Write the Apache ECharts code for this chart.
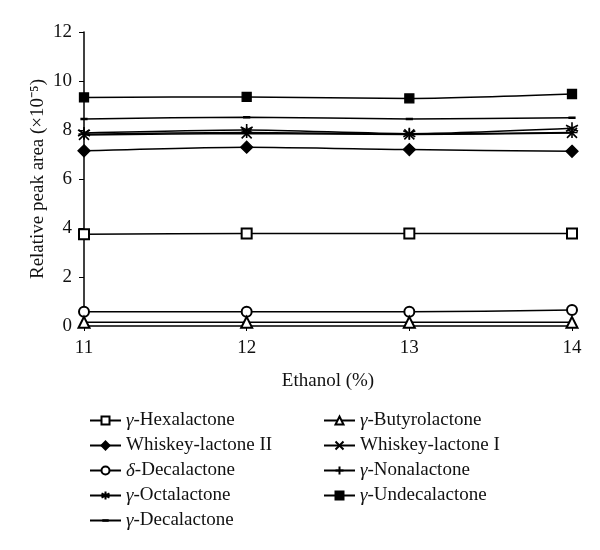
<!DOCTYPE html>
<html><head><meta charset="utf-8">
<script src="https://cdn.jsdelivr.net/npm/echarts@6/dist/echarts.min.js"></script>
<style>html,body{margin:0;padding:0;background:#fff}#c{width:600px;height:550px}</style>
</head><body><div id="c"></div>
<script>
const ethanol = [11, 12, 13, 14];
const seriesNames = ['γ-Hexalactone','Whiskey-lactone II','δ-Decalactone','γ-Octalactone','γ-Decalactone','γ-Butyrolactone','Whiskey-lactone I','γ-Nonalactone','γ-Undecalactone'];
const hexalactone   = [3.74, 3.78, 3.78, 3.78];
const whiskeyII     = [7.15, 7.30, 7.20, 7.13];
const dDecalactone  = [0.58, 0.58, 0.58, 0.65];
const octalactone   = [7.88, 8.00, 7.85, 8.07];
const gDecalactone  = [8.45, 8.52, 8.45, 8.50];
const butyrolactone = [0.15, 0.15, 0.15, 0.15];
const whiskeyI      = [7.80, 7.86, 7.82, 7.88];
const nonalactone   = [7.83, 7.90, 7.84, 7.90];
const undecalactone = [9.33, 9.35, 9.29, 9.47];
const yTicks = [0, 2, 4, 6, 8, 10, 12];

const FONT = 'Liberation Serif';
const FS = 19;
const X = 'path://M0,0L10,10M10,0L0,10';
const PLUS = 'path://M5,0L5,10M0,5L10,5';
const STAR = 'path://M5,0L5,10M0.7,2.5L9.3,7.5M9.3,2.5L0.7,7.5';
const DASH = 'path://M0,0L0.01,0L0,0.01Z M1,3.5L9,3.5L9,6.5L1,6.5Z M10,10L9.99,10L10,9.99Z';

const dataArr = [hexalactone, whiskeyII, dDecalactone, octalactone, gDecalactone, butyrolactone, whiskeyI, nonalactone, undecalactone];
const symbols = [
  ['emptyRect', 10], ['diamond', 12], ['emptyCircle', 10], [STAR, 12], [DASH, 9],
  ['emptyTriangle', 11], [X, 10], [PLUS, 11], ['rect', 9]
];

const series = seriesNames.map((n, i) => {
  const sym = symbols[i][0];
  const isPath = sym.startsWith('path://') && sym !== DASH;
  return {
    name: n, type: 'line', smooth: 0.25,
    data: ethanol.map((x, j) => [x, dataArr[i][j]]),
    symbol: sym, symbolSize: symbols[i][1],
    lineStyle: { color: '#000', width: 1.5 },
    itemStyle: isPath ? { color: 'none', borderColor: '#000', borderWidth: 1.6 } : { color: '#000', borderColor: '#000', borderWidth: sym === DASH ? 0 : 1.3 },
    emphasis: { disabled: true },
    animation: false, z: 2
  };
});

const fmt = n => n.replace(/^([γδ])/, '{i|$1}');
const legendText = { fontFamily: FONT, fontSize: FS, color: '#111', rich: { i: { fontFamily: FONT, fontStyle: 'italic', fontSize: FS, color: '#111' } } };

const chart = echarts.init(document.getElementById('c'));
chart.setOption({
  backgroundColor: '#fff',
  animation: false,
  grid: { left: 84, right: 28, top: 32, bottom: 224, containLabel: false },
  xAxis: {
    type: 'value', min: 11, max: 14, interval: 1,
    name: 'Ethanol (%)', nameLocation: 'middle', nameGap: 46,
    nameTextStyle: { fontFamily: FONT, fontSize: FS, color: '#111' },
    axisLine: { lineStyle: { color: '#000', width: 1.5 } },
    axisTick: { show: true, length: 5, lineStyle: { color: '#000' } },
    axisLabel: { fontFamily: FONT, fontSize: FS, color: '#111', margin: 13 },
    splitLine: { show: false }
  },
  yAxis: {
    type: 'value', min: yTicks[0], max: yTicks[yTicks.length-1], interval: 2,
    name: 'Relative peak area (×10⁻⁵)', nameLocation: 'middle', nameGap: 36,
    nameMoveOverlap: false,
    nameTextStyle: { fontFamily: FONT, fontSize: FS, color: '#111' },
    axisLine: { show: true, lineStyle: { color: '#000', width: 1.5 } },
    axisTick: { show: true, length: 5, lineStyle: { color: '#000' } },
    axisLabel: { fontFamily: FONT, fontSize: FS, color: '#111', margin: 12 },
    splitLine: { show: false }
  },
  legend: [
    { data: seriesNames.slice(0,5), orient: 'vertical', left: 84, top: 406, itemWidth: 31, itemHeight: 10, itemGap: 6, formatter: fmt, textStyle: legendText, selectedMode: false },
    { data: seriesNames.slice(5), orient: 'vertical', left: 318, top: 406, itemWidth: 31, itemHeight: 10, itemGap: 6, formatter: fmt, textStyle: legendText, selectedMode: false }
  ],
  series
});
</script></body></html>
